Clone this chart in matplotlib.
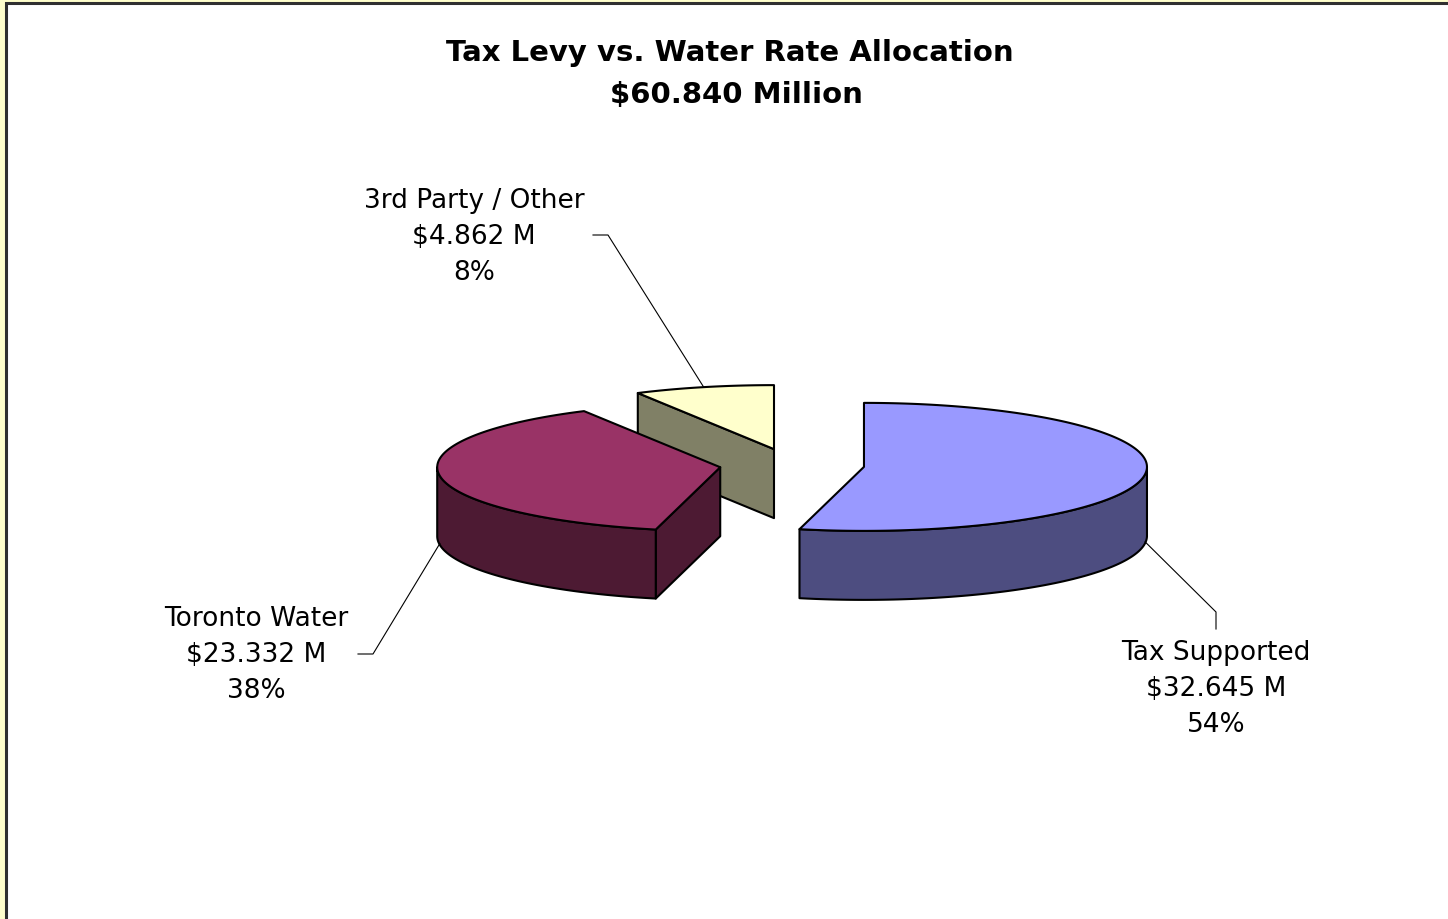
import numpy as np
import matplotlib
matplotlib.use("Agg")
import matplotlib.pyplot as plt
from matplotlib.patches import Polygon, Rectangle

plt.rcParams['font.family'] = ['DejaVu Sans']

# ---- data ----
categories = ["Tax Supported", "Toronto Water", "3rd Party / Other"]
values = [32.645, 23.332, 4.862]          # $ millions
value_labels = ["$32.645 M", "$23.332 M", "$4.862 M"]
pct_labels = ["54%", "38%", "8%"]
title_lines = ["Tax Levy vs. Water Rate Allocation", "$60.840 Million"]

top_colors = ["#9999FF", "#993366", "#FFFFCC"]
side_colors = ["#4D4D80", "#4D1A33", "#808066"]

# ---- layout (pixels) ----
W, H = 1448, 920
CX, CY = 792, 466
RX, RY = 283, 64
DEPTH = 69
EXPLODE = 0.256
label_pos = [(1216, 689), (256, 655), (474, 237)]   # centre of label block
LINE_H = 36
LABEL_FS = 19
TITLE_FS = 21

fig = plt.figure(figsize=(W / 100, H / 100), dpi=100, facecolor="#FFFFCC")
ax = fig.add_axes([0, 0, 1, 1])
ax.set_xlim(0, W)
ax.set_ylim(H, 0)
ax.axis("off")
ax.add_patch(Rectangle((6, 4), W + 50, H + 50, facecolor="white",
                       edgecolor="#303030", lw=2.2, zorder=0))

total = sum(values)
fracs = [v / total for v in values]
starts = np.concatenate([[0], np.cumsum(fracs)[:-1]]) * 360 - 90
ends = np.cumsum(fracs) * 360 - 90


def pt(cx, cy, th, dz=0):
    r = np.deg2rad(th)
    return cx + RX * np.cos(r), cy + RY * np.sin(r) + dz


slices = []
for i in range(len(values)):
    mid = (starts[i] + ends[i]) / 2
    m = np.deg2rad(mid)
    cx = CX + EXPLODE * RX * np.cos(m)
    cy = CY + EXPLODE * RY * np.sin(m)
    slices.append((cy, i, cx, mid))

ekw = dict(edgecolor="black", lw=1.5, joinstyle="round")
z = 1
for cy, i, cx, mid in sorted(slices):
    a0, a1 = starts[i], ends[i]
    # radial faces: start face faces front if -cos(a0) > 0, end face if cos(a1) > 0
    for ang, ny in ((a0, -np.cos(np.deg2rad(a0))), (a1, np.cos(np.deg2rad(a1)))):
        if ny > 1e-3:
            p = pt(cx, cy, ang)
            poly = [(cx, cy), p, (p[0], p[1] + DEPTH), (cx, cy + DEPTH)]
            ax.add_patch(Polygon(poly, closed=True, facecolor=side_colors[i],
                                 zorder=z, **ekw))
    # outer visible side (front half, 0..180 deg)
    lo, hi = max(a0, 0), min(a1, 180)
    if hi > lo:
        th = np.linspace(lo, hi, 120)
        topp = [pt(cx, cy, t) for t in th]
        bot = [pt(cx, cy, t, DEPTH) for t in th[::-1]]
        ax.add_patch(Polygon(topp + bot, closed=True,
                             facecolor=side_colors[i], zorder=z, **ekw))
    # top face
    th = np.linspace(a0, a1, 200)
    poly = [(cx, cy)] + [pt(cx, cy, t) for t in th]
    ax.add_patch(Polygon(poly, closed=True, facecolor=top_colors[i],
                         zorder=z + 0.5, **ekw))
    z += 1

    # label & leader line
    lx, ly = label_pos[i]
    for k, s in enumerate((categories[i], value_labels[i], pct_labels[i])):
        ax.text(lx, ly + (k - 1) * LINE_H, s, ha="center", va="center",
                fontsize=LABEL_FS, zorder=10)
    m = np.deg2rad(mid)
    ax_, ay_ = pt(cx, cy, mid, DEPTH * 0.98 if np.sin(m) > 0 else 0)
    if i == 0:
        pts = [(ax_, ay_), (lx, ly - 76), (lx, ly - 59)]
    elif i == 1:
        pts = [(ax_, ay_), (lx + 117, ly), (lx + 102, ly)]
    else:
        pts = [(ax_, ay_), (lx + 134, ly - 1), (lx + 119, ly - 1)]
    ax.plot([p[0] for p in pts], [p[1] for p in pts], color="black",
            lw=0.8, zorder=z + 5)

ax.text(730, 53, title_lines[0], ha="center", va="center", fontsize=TITLE_FS,
        fontweight="bold", zorder=10)
ax.text(736, 95, title_lines[1], ha="center", va="center", fontsize=TITLE_FS,
        fontweight="bold", zorder=10)

fig.savefig("out.png", dpi=100, facecolor=fig.get_facecolor())
